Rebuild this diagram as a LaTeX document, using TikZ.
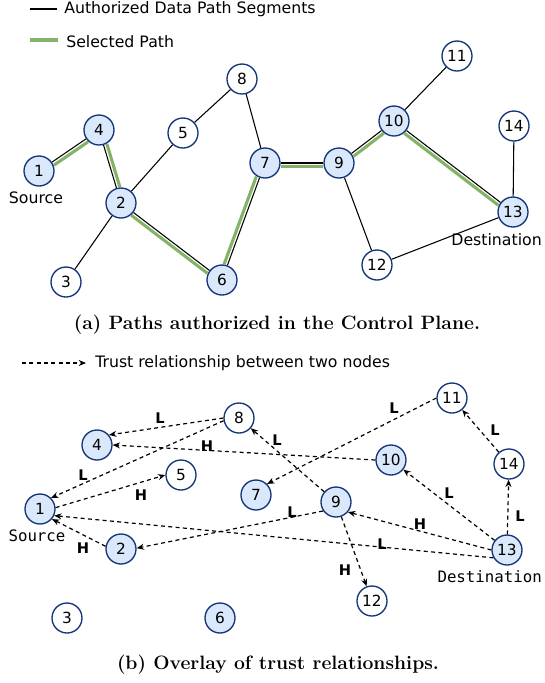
\documentclass[tikz,border=0pt]{standalone}
\usepackage{fontspec}
\usetikzlibrary{arrows.meta}
\newfontfamily\dv{DejaVu Sans}
\newfontfamily\dvm{DejaVu Sans Mono}
\newcommand\mysz{\fontsize{11.8pt}{13pt}\selectfont}
\definecolor{navy}{HTML}{15357A}
\definecolor{lb}{HTML}{DAE8FC}
\definecolor{gr}{HTML}{82B366}
\pgfdeclarelayer{background}
\pgfsetlayers{background,main}
\begin{document}
\begin{tikzpicture}[x=0.75pt,y=-0.75pt,
  nd/.style={circle,draw=navy,line width=1pt,minimum size=22.5pt,inner sep=0pt,font=\dv\fontsize{11.5pt}{13pt}\selectfont},
  on/.style={nd,fill=lb},
  off/.style={nd,fill=white},
  seg/.style={black,line width=0.8pt},
  sel/.style={gr,line width=2.3pt},
  tr/.style={black,line width=0.9pt,dash pattern=on 3pt off 2.5pt,-{Stealth[length=5.5pt,width=4.5pt]}},
  lab/.style={font=\dv\bfseries\fontsize{11pt}{12pt}\selectfont,inner sep=0pt},
  txt/.style={font=\dv\mysz,inner sep=0pt},
  mono/.style={font=\dvm\mysz,inner sep=0pt},
  captxt/.style={font=\bfseries\fontsize{14.5pt}{16pt}\selectfont,inner sep=0pt}]
\useasboundingbox (0,0) rectangle (544,683);

% ---------- legend (a)
\coordinate (la1) at (30,9); \coordinate (la2) at (57,9);
\draw[seg] (la1) -- (la2);
\node[txt,anchor=west] (lta) at (64,9) {Authorized Data Path Segments};
\coordinate (lg1) at (30,40); \coordinate (lg2) at (58,40);
\draw[sel] (lg1) -- (lg2);
\node[txt,anchor=west] (ltb) at (66,42) {Selected Path};

% ---------- nodes (a)
\node[on]  (a1)  at (39,171) {1};
\node[on]  (a4)  at (99,130) {4};
\node[off] (a5)  at (183,133) {5};
\node[off] (a8)  at (242,79) {8};
\node[on]  (a2)  at (121,203) {2};
\node[off] (a3)  at (66,282) {3};
\node[on]  (a6)  at (222,280) {6};
\node[on]  (a7)  at (265,163) {7};
\node[on]  (a9)  at (339,163) {9};
\node[on]  (a10) at (394,121) {10};
\node[off] (a11) at (457,56) {11};
\node[off] (a14) at (514,126) {14};
\node[on]  (a13) at (513,212) {13};
\node[off] (a12) at (377,265) {12};
\node[txt] (src) at (36,198) {Source};
\node[txt,anchor=east] (dst) at (542,240) {Destination};

\begin{pgfonlayer}{background}
\draw[seg] (a1) -- (a4);
\draw[seg] (a4) -- (a2);
\draw[seg] (a2) -- (a5);
\draw[seg] (a5) -- (a8);
\draw[seg] (a8) -- (a7);
\draw[seg] (a2) -- (a3);
\draw[seg] (a2) -- (a6);
\draw[seg] (a6) -- (a7);
\draw[seg] (a7) -- (a9);
\draw[seg] (a9) -- (a10);
\draw[seg] (a10) -- (a11);
\draw[seg] (a10) -- (a13);
\draw[seg] (a9) -- (a12);
\draw[seg] (a12) -- (a13);
\draw[seg] (a13) -- (a14);
\draw[sel,transform canvas={shift={(2,3)}}] (a1) -- (a4);
\draw[sel,transform canvas={shift={(3.4,-1)}}] (a4) -- (a2);
\draw[sel,transform canvas={shift={(-2.1,2.8)}}] (a2) -- (a6);
\draw[sel,transform canvas={shift={(-3.3,-1.2)}}] (a6) -- (a7);
\draw[sel,transform canvas={shift={(0,3.6)}}] (a7) -- (a9);
\draw[sel,transform canvas={shift={(2.1,2.8)}}] (a9) -- (a10);
\draw[sel,transform canvas={shift={(-2.1,2.8)}}] (a10) -- (a13);
\end{pgfonlayer}

\node[captxt] (capa) at (277,325) {(a) Paths authorized in the Control Plane.};

% ---------- legend (b)
\coordinate (lb1) at (22,363); \coordinate (lb2) at (86,363);
\draw[tr] (lb1) -- (lb2);
\node[txt,anchor=west] (ltc) at (95,363) {Trust relationship between two nodes};

% ---------- nodes (b)
\node[on]  (b1)  at (40,509) {1};
\node[on]  (b4)  at (97,445) {4};
\node[off] (b5)  at (181,475) {5};
\node[off] (b8)  at (239,418) {8};
\node[on]  (b7)  at (256,495) {7};
\node[on]  (b9)  at (336,502) {9};
\node[on]  (b10) at (391,460) {10};
\node[off] (b11) at (452,398) {11};
\node[off] (b14) at (509,464) {14};
\node[on]  (b13) at (507,550) {13};
\node[off] (b12) at (372,601) {12};
\node[on]  (b2)  at (121,549) {2};
\node[off] (b3)  at (67,618) {3};
\node[on]  (b6)  at (220,618) {6};
\node[mono] (srcb) at (37,536) {Source};
\node[mono,anchor=east] (dstb) at (542,577) {Destination};

\draw[tr] (b8.180) -- (b4.40);
\draw[tr] (b8.190) -- (b1.45);
\draw[tr] (b10.180) -- (b4.0);
\draw[tr] (b1.5) -- (b5.180);
\draw[tr] (b11.180) -- (b7.45);
\draw[tr] (b9) -- (b8);
\draw[tr] (b9.215) -- (b2.3);
\draw[tr] (b13.210) -- (b1.-25);
\draw[tr] (b13.180) -- (b9.-40);
\draw[tr] (b13) -- (b10);
\draw[tr] (b13) -- (b14);
\draw[tr] (b14) -- (b11);
\draw[tr] (b9) -- (b12);
\draw[tr] (b2.170) -- (b1.-40);

\node[lab] (l84) at (160,418) {L};
\node[lab] (l81) at (83,475) {L};
\node[lab] (l104) at (207,446) {H};
\node[lab] (l15) at (141,495) {H};
\node[lab] (l117) at (394,408) {L};
\node[lab] (l98) at (277,440) {L};
\node[lab] (l92) at (292,512) {L};
\node[lab] (l131) at (382,544) {L};
\node[lab] (l139) at (420,524) {H};
\node[lab] (l1310) at (449,493) {L};
\node[lab] (l1314) at (520,516) {L};
\node[lab] (l1411) at (495,430) {L};
\node[lab] (l912) at (345,570) {H};
\node[lab] (l21) at (83,548) {H};

\node[captxt] (capb) at (278,665) {(b) Overlay of trust relationships.};
\end{tikzpicture}
\end{document}
